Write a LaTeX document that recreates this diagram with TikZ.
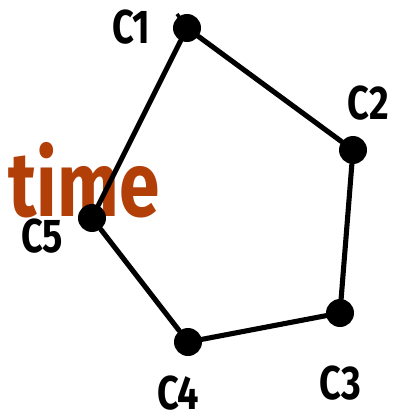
\documentclass[tikz,border=0pt]{standalone}
\usepackage{fontspec}
\setmainfont{Fira Sans}
\usetikzlibrary{positioning}
\definecolor{timebrown}{RGB}{178,62,8}

\begin{document}
\begin{tikzpicture}[
    x=0.02cm, y=-0.02cm,
    dot/.style={circle, fill=black, inner sep=0pt, minimum size=0.56cm},
    edge/.style={line width=2.9pt, line cap=round},
    lbl/.style={font=\fontsize{27}{27}\selectfont\bfseries, xscale=0.8, inner sep=0pt}
]
    \useasboundingbox (0,0) rectangle (401,416);
    % word behind the polygon
    \node[font=\fontsize{52}{52}\selectfont\bfseries, text=timebrown, xscale=0.8, inner sep=0pt] (time) at (84,180) {time};
    % vertices
    \node[dot] (c1) at (187,28) {};
    \node[dot] (c2) at (353,150) {};
    \node[dot] (c3) at (340,313) {};
    \node[dot] (c4) at (188,342) {};
    \node[dot] (c5) at (92,218) {};
    \coordinate (nub) at (177,14);
    \draw[edge] (c1) -- (c2) -- (c3) -- (c4) -- (c5) -- (c1);
    \draw[line width=2pt] (nub) -- (c1.center);
    % labels
    \node[lbl] (l1) at (131,27) {C1};
    \node[lbl] (l2) at (368,103) {C2};
    \node[lbl] (l3) at (340,383) {C3};
    \node[lbl] (l4) at (178,393) {C4};
    \node[lbl] (l5) at (42,236) {C5};
\end{tikzpicture}
\end{document}
